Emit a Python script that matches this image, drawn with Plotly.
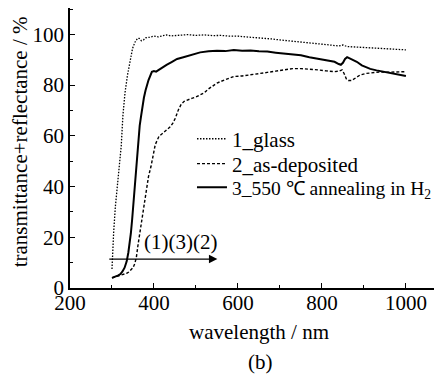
import plotly.graph_objects as go

# ---- data ----
wl_glass = [300, 301, 304, 308, 313, 318, 322, 326, 331, 337, 343, 349, 355, 361, 365, 370, 375, 380,
            390, 400, 410, 420, 430, 440, 460, 480, 500, 520, 540, 560, 580, 600, 620, 640, 660,
            680, 700, 720, 740, 760, 780, 800, 820, 840, 850, 860, 880, 900, 920, 940, 960, 980, 1000]
t_glass = [7.5, 14, 22, 32, 40, 47, 56, 68, 77, 84, 90, 94.5, 97, 98.5, 98.4, 97.5, 97.8, 98.6,
           98.9, 99.3, 99.0, 99.5, 99.8, 99.4, 99.7, 99.9, 99.6, 99.8, 99.5, 99.6, 99.3, 99.3, 99.0, 98.8, 98.6,
           98.2, 97.8, 97.5, 97.2, 96.8, 96.4, 96.2, 95.8, 95.4, 95.8, 95.2, 95.0, 94.8, 94.6, 94.4, 94.3, 94.1, 93.9]

wl_asdep = [300, 310, 320, 328, 335, 340, 345, 350, 354, 358, 362, 366, 370, 375, 379, 383, 387, 393,
            399, 403, 407, 412, 418, 425, 432, 439, 445, 451, 458, 465, 472, 480, 490, 500, 510, 520,
            530, 540, 550, 560, 575, 590, 610, 630, 650, 670, 690, 710, 730, 750, 770, 790, 810, 830,
            840, 848, 853, 858, 863, 870, 880, 891, 905, 923, 940, 960, 980, 1000]
t_asdep = [4.0, 4.5, 5.0, 5.2, 5.8, 6.3, 7.0, 8.0, 9.5, 12, 17, 21.6, 26, 31.5, 35, 40, 44, 48,
           53, 56.5, 58, 59.8, 60.6, 61.5, 62.5, 63.6, 65, 67, 70.2, 72.5, 73.6, 74.2, 74.8, 75.3, 76, 77,
           78.5, 79.8, 80.8, 81.5, 82.5, 83.4, 83.6, 84, 84.6, 85, 85.5, 86, 86.5, 86.5, 86.3, 86, 85.6, 85.3,
           85.5, 86, 84.5, 82.5, 81.8, 81.8, 82.8, 84, 84.6, 85, 85.2, 85.1, 85.3, 85.3]

wl_anneal = [300, 305, 310, 315, 320, 325, 330, 335, 339, 342, 345, 348, 350, 352, 355.5, 359, 363, 366,
             369, 372, 376, 380, 387, 395, 400, 405, 411, 420, 430, 443, 455, 470, 490, 510, 530, 550,
             570, 590, 610, 630, 650, 670, 690, 710, 730, 750, 770, 790, 810, 830, 840, 845, 850, 855,
             860, 866, 875, 883, 895, 905, 915, 930, 945, 960, 975, 990, 1000]
t_anneal = [4.0, 4.3, 4.5, 5.0, 5.5, 6.5, 8, 10.5, 14, 17.5, 21.6, 27, 31.5, 36, 44, 52, 59.7, 64,
            67.5, 71, 75, 78, 82, 85.2, 85.5, 85.3, 86, 86.8, 88, 89.2, 90.3, 91, 92, 92.9, 93.3, 93.5,
            93.4, 93.8, 93.5, 93.6, 93.3, 93.2, 92.8, 92.4, 92, 91.8, 91, 90.4, 89.8, 89.2, 88.3, 88.0, 88.8, 90.3,
            91, 90.6, 89.7, 89.2, 87.8, 87, 86.4, 85.8, 85.3, 84.9, 84.5, 84, 83.6]

names = ["1_glass", "2_as-deposited", "3_550 ℃ annealing in H<sub>2</sub>"]
x_ticks = [200, 400, 600, 800, 1000]
y_ticks = [0, 20, 40, 60, 80, 100]
x_title = "wavelength / nm"
y_title = "transmittance+reflectance / %"
arrow_label = "(1)(3)(2)"
panel_label = "(b)"

FONT = "Liberation Serif, Tinos, Times New Roman, serif"
FS = 21

fig = go.Figure()
fig.add_trace(go.Scatter(x=wl_glass, y=t_glass, mode="lines", name=names[0], legend="legend",
                         line=dict(color="black", width=1.3, dash="1.5px,1.5px")))
fig.add_trace(go.Scatter(x=wl_asdep, y=t_asdep, mode="lines", name=names[1], legend="legend2",
                         line=dict(color="black", width=1.4, dash="3px,2px")))
fig.add_trace(go.Scatter(x=wl_anneal, y=t_anneal, mode="lines", name=names[2], legend="legend3",
                         line=dict(color="black", width=2)))

# arrow and label
fig.add_annotation(x=551, y=11.4, ax=290, ay=11.4, xref="x", yref="y", axref="x", ayref="y",
                   text="", showarrow=True, arrowhead=2, arrowsize=1.3, arrowwidth=1.3,
                   arrowcolor="black")
fig.add_annotation(x=462, y=18.3, xref="x", yref="y", text=arrow_label, showarrow=False,
                   font=dict(family=FONT, size=FS, color="black"))
fig.add_annotation(x=0.5, y=-0.264, xref="paper", yref="paper", text=panel_label, showarrow=False,
                   xanchor="center", yanchor="middle",
                   font=dict(family=FONT, size=FS, color="black"))
# axis titles
fig.add_annotation(x=0.497, y=-0.158, xref="paper", yref="paper", text=x_title, showarrow=False,
                   xanchor="center", yanchor="middle",
                   font=dict(family=FONT, size=FS, color="black"))
fig.add_annotation(x=-0.1316, y=0.5237, xref="paper", yref="paper", text=y_title, showarrow=False,
                   xanchor="center", yanchor="middle", textangle=-90,
                   font=dict(family=FONT, size=FS, color="black"))

leg_common = dict(x=0.321, xanchor="left", yanchor="top", bgcolor="rgba(0,0,0,0)")

fig.update_layout(
    width=442, height=374, autosize=False,
    margin=dict(l=62, r=0, t=0, b=93.7, autoexpand=False),
    paper_bgcolor="white", plot_bgcolor="white",
    font=dict(family=FONT, size=FS, color="black"),
    showlegend=True,
    legend=dict(y=0.605, font=dict(family=FONT, size=FS, color="black"), **leg_common),
    legend2=dict(y=0.516, font=dict(family=FONT, size=FS, color="black"), **leg_common),
    legend3=dict(y=0.428, font=dict(family=FONT, size=19.5, color="black"), **leg_common),
    xaxis=dict(range=[200, 1105], tickvals=x_ticks, ticks="inside", ticklen=5, tickwidth=1.2,
               tickcolor="black", showline=True, linecolor="black", linewidth=1.5,
               showgrid=False, zeroline=False, automargin=False, ticklabelstandoff=-5,
               minor=dict(dtick=100, tick0=0, ticks="inside", ticklen=3, tickwidth=1.2, tickcolor="black"),
               tickfont=dict(family=FONT, size=FS)),
    yaxis=dict(range=[0, 110.4], tickvals=y_ticks, ticks="inside", ticklen=5, tickwidth=1.2,
               tickcolor="black", showline=True, linecolor="black", linewidth=1.5,
               showgrid=False, zeroline=False, automargin=False,
               minor=dict(dtick=10, tick0=0, ticks="inside", ticklen=3, tickwidth=1.2, tickcolor="black"),
               tickfont=dict(family=FONT, size=FS)),
)

fig.write_html("out.html")
